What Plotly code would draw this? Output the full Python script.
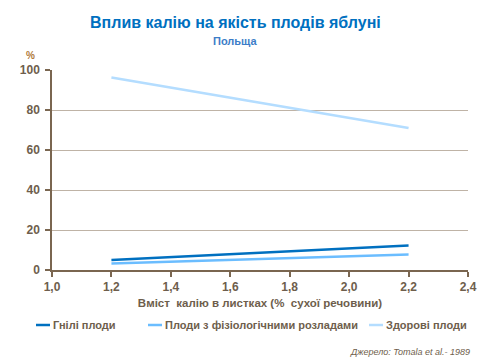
import plotly.graph_objects as go

x_vals = [1.2, 2.2]
rotten = [5.0, 12.2]
physio = [3.2, 7.7]
healthy = [96.2, 71.0]
names = ["Гнілі плоди", "Плоди з фізіологічними розладами", "Здорові плоди"]
colors = ["#0070C0", "#6BBDFF", "#B4DDFF"]

axis_col = "#7A6650"
tick_col = "#6E5E4C"
font = "Liberation Sans, Arial, sans-serif"

L, R, T, B = 52, 12, 70, 90
pw, ph = 480 - L - R, 360 - T - B
def px(xp): return (xp - L) / pw
def py(yp): return (360 - B - yp) / ph

fig = go.Figure()
for ys, n, c in zip([rotten, physio, healthy], names, colors):
    fig.add_trace(go.Scatter(x=x_vals, y=ys, mode="lines", name=n,
                             line=dict(color=c, width=2.5)))

fig.update_layout(
    width=480, height=360,
    margin=dict(l=L, r=R, t=T, b=B, autoexpand=False),
    paper_bgcolor="white", plot_bgcolor="white",
    font=dict(family=font, color=tick_col),
    showlegend=False,
    xaxis=dict(range=[1.0, 2.4], dtick=0.2, tickformat=".1f",
               showgrid=False, showline=True, linecolor=axis_col, linewidth=1.5,
               ticks="outside", tickcolor=axis_col, ticklen=5, tickwidth=1.5,
               tickfont=dict(size=12, color=tick_col, family=font, weight="bold"),
               title=dict(text="<b>Вміст  калію в листках (%  сухої речовини)</b>",
                          font=dict(size=11.5, color=tick_col), standoff=6),
               zeroline=False, fixedrange=True, automargin=False),
    yaxis=dict(range=[0, 100], dtick=20, showgrid=True, gridcolor="#BFB3A6", gridwidth=1,
               showline=True, linecolor=axis_col, linewidth=1.5,
               ticks="outside", tickcolor=axis_col, ticklen=5, tickwidth=1.5,
               ticklabelstandoff=3,
               tickfont=dict(size=12, color=tick_col, family=font, weight="bold"),
               zeroline=False, fixedrange=True, automargin=False),
    separators=",.",
)

fig.add_annotation(text="<b>Вплив калію на якість плодів яблуні</b>", x=px(235), y=py(22),
                   xref="paper", yref="paper", showarrow=False,
                   font=dict(size=16, color="#0070C0", family=font), xanchor="center", yanchor="middle")
fig.add_annotation(text="<b>Польща</b>", x=px(235), y=py(41),
                   xref="paper", yref="paper", showarrow=False,
                   font=dict(size=11, color="#3C7DC8", family=font), xanchor="center", yanchor="middle")
fig.add_annotation(text="<b>%</b>", x=px(30), y=py(56),
                   xref="paper", yref="paper", showarrow=False,
                   font=dict(size=10, color="#B07A3A", family=font), xanchor="center", yanchor="middle")
fig.add_annotation(text="<i>Джерело: Tomala et al.- 1989</i>", x=px(472), y=py(352),
                   xref="paper", yref="paper", showarrow=False,
                   font=dict(size=9, color="#6E5E4C", family=font), xanchor="right", yanchor="middle")

# manual legend (one row)
leg_x = [36, 148, 369]
for n, c, x0 in zip(names, colors, leg_x):
    fig.add_shape(type="line", xref="paper", yref="paper",
                  x0=px(x0), x1=px(x0 + 14), y0=py(325), y1=py(325),
                  line=dict(color=c, width=2.5))
    fig.add_annotation(text="<b>" + n + "</b>", x=px(x0 + 15), y=py(325),
                       xref="paper", yref="paper", showarrow=False,
                       font=dict(size=11, color=tick_col, family=font),
                       xanchor="left", yanchor="middle")

fig.write_html("out.html", config={"displayModeBar": False},
               post_script="document.body.style.margin='0';document.body.style.overflow='hidden';")
